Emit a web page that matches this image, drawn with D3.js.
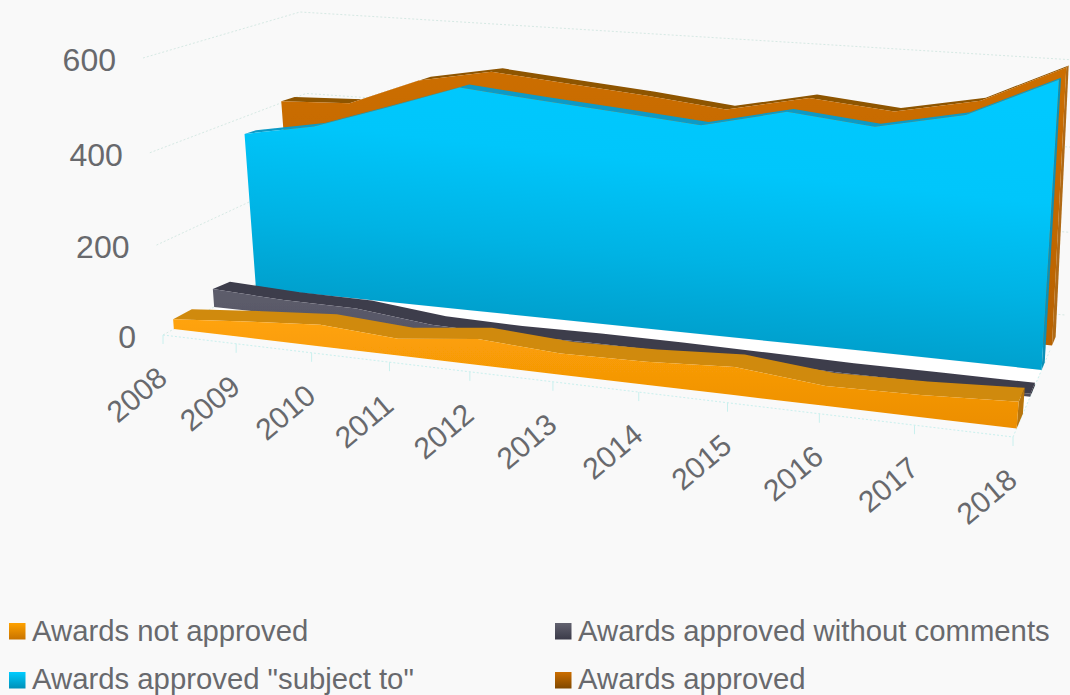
<!DOCTYPE html>
<html><head><meta charset="utf-8">
<script src="https://cdn.jsdelivr.net/npm/d3@7"></script>
<style>html,body{margin:0;padding:0;background:#f9f9f9}svg{display:block}text{font-family:"Liberation Sans",Arial,sans-serif;fill:#68696d}</style>
</head><body><svg id="c" width="1070" height="695"></svg>
<script>
const years=["2008","2009","2010","2011","2012","2013","2014","2015","2016","2017","2018"];
const notApproved=[22,36,47,36,54,43,46,55,38,41,49];
const withoutComments=[42,34,32,14,10,12,11,9,6,6,6];
const subjectTo=[368,396,449,504,487,471,454,493,473,508,588];
const approved=[417,423,487,517,501,485,465,502,484,519,600];
const valueTicks=[0,200,400,600];
const legendNames=["Awards not approved","Awards approved without comments","Awards approved \"subject to\"","Awards approved"];

// box corners of the 3D plot (front/back, bottom/top, left/right)
const A=[163,335],B=[1013,437],D=[318,250],C=[1065,315];
const E=[143,58],F=[1040,90],H=[300,12],G=[1075,60];
const lerp=(p,q,t)=>[p[0]+(q[0]-p[0])*t,p[1]+(q[1]-p[1])*t];
const ux=d3.scaleLinear().domain([0,years.length-1]).range([0,1]);
const vy=d3.scaleLinear().domain([0,600]).range([0,1]);
const warpX=u=>u/(u+(1-u)*1.18);
const warpY=t=>t/(t+(1-t)*1.04);
function proj(i,v,d){
  const u=warpX(ux(i)),t=warpY(vy(v));
  const bot=lerp(lerp(A,B,u),lerp(D,C,u),d);
  const top=lerp(lerp(E,F,u),lerp(H,G,u),d);
  return lerp(bot,top,t);
}
// ribbons sit slightly right of the wall grid, more so towards the back-left
function rib(i,v,d){
  const p=proj(i,v,d),u=warpX(ux(i));
  return [p[0]+Math.max(0,d-.33)*35*(1-Math.pow(u,8)),p[1]];
}
const svg=d3.select("#c");
const defs=svg.append("defs");
defs.append("filter").attr("id","soft").attr("x","-2%").attr("y","-2%").attr("width","104%").attr("height","104%")
  .append("feGaussianBlur").attr("stdDeviation",.55);
const line=d3.line().curve(d3.curveLinearClosed);
function grad(id,stops,x1,y1,x2,y2){
  const g=defs.append("linearGradient").attr("id",id).attr("x1",x1).attr("y1",y1).attr("x2",x2).attr("y2",y2);
  g.selectAll("stop").data(stops).join("stop").attr("offset",s=>s[0]).attr("stop-color",s=>s[1]);
}
grad("gBlue",[[0,"#00c9ff"],[.3,"#00c6fb"],[.6,"#00b3e4"],[.84,"#05a0cd"],[1,"#0a97c2"]],.65,0,.35,1);
grad("gOrange",[[0,"#ffa308"],[1,"#ec8e04"]],.5,0,.5,1);
grad("gGrey",[[0,"#5d5d6c"],[1,"#4c4b5a"]],.5,0,.5,1);
grad("gBrown",[[0,"#cc6e00"],[1,"#b86200"]],.5,0,.5,1);
grad("lOrange",[[0,"#ffa200"],[1,"#c87300"]],0,0,0,1);
grad("lGrey",[[0,"#62626f"],[1,"#3b3a49"]],0,0,0,1);
grad("lBlue",[[0,"#00ccff"],[1,"#0090b8"]],0,0,0,1);
grad("lBrown",[[0,"#cc6e00"],[1,"#804800"]],0,0,0,1);

const idx=d3.range(years.length);
// floor highlight
svg.append("path").attr("fill","#ffffff").attr("d",line([rib(0,0,.07),rib(10,0,.07),rib(10,0,.55),rib(0,0,.55)]));

// grid on the walls
const gridCol="#d6e9e4";
const dash=sel=>sel.attr("fill","none").attr("stroke",gridCol).attr("stroke-width",1).attr("stroke-dasharray","2 2");
const lin=d3.line();
svg.append("g").selectAll("path").data(valueTicks).join("path").call(dash)
  .attr("d",v=>lin([proj(0,v,0),proj(0,v,1),proj(10,v,1)]));
const axisCol="#c9f0ee";
svg.append("path").call(dash).attr("stroke",axisCol).attr("d",lin([proj(0,0,0),proj(10,0,0),proj(10,0,.72)]));
svg.append("g").selectAll("path").data(idx).join("path").attr("fill","none").attr("stroke",axisCol)
  .attr("d",i=>{const p=proj(i,0,0);return lin([p,[p[0],p[1]+9]]);});

// series ribbons, back to front
const series=[
 {vals:approved,d0:.75,d1:.82,face:"url(#gBrown)",top:"#8e5400",cap:"#b06a14"},
 {vals:subjectTo,d0:.55,d1:.61,face:"url(#gBlue)",top:"#0a9ac6",cap:"#0a8fb6"},
 {vals:withoutComments,d0:.33,d1:.42,face:"url(#gGrey)",top:"#3d3c4c",cap:"#33323f"},
 {vals:notApproved,d0:.07,d1:.19,face:"url(#gOrange)",top:"#d08a0e",cap:"#b87408"}
];
const g=svg.append("g").attr("filter","url(#soft)").selectAll("g").data(series).join("g");
g.append("path").attr("fill",s=>s.cap).attr("d",s=>{const n=10,v=s.vals[n];
  return line([rib(n,0,s.d0),rib(n,v,s.d0),rib(n,v,s.d1),rib(n,0,s.d1)]);});
g.append("path").attr("fill",s=>s.top).attr("d",s=>line(
  idx.map(i=>rib(i,s.vals[i],s.d0)).concat(idx.slice().reverse().map(i=>rib(i,s.vals[i],s.d1)))));
g.append("path").attr("fill",s=>s.face).attr("d",s=>line(
  idx.map(i=>rib(i,s.vals[i],s.d0)).concat(idx.slice().reverse().map(i=>rib(i,0,s.d0)))));

// axis labels
svg.append("g").selectAll("text").data(valueTicks).join("text")
  .attr("font-size",32).attr("text-anchor","end").attr("dominant-baseline","central")
  .attr("x",v=>proj(0,v,0)[0]-27).attr("y",v=>proj(0,v,0)[1]+2).text(v=>v);
svg.append("g").selectAll("text").data(idx).join("text")
  .attr("font-size",30).attr("text-anchor","end")
  .attr("transform",i=>{const p=proj(i,0,0);return `translate(${p[0]+6},${p[1]+46}) rotate(-40)`;})
  .text(i=>years[i]);

// legend
const legendFill=["url(#lOrange)","url(#lGrey)","url(#lBlue)","url(#lBrown)"];
const lg=svg.append("g").selectAll("g").data(legendNames).join("g")
  .attr("transform",(n,i)=>`translate(${i%2?555:9},${i<2?623:672})`);
lg.append("rect").attr("width",16.5).attr("height",16.5).attr("fill",(n,i)=>legendFill[i]);
lg.append("text").attr("x",23).attr("y",(n,i)=>i<2?18:16.5).attr("font-size",29.3).text(n=>n);
</script></body></html>
